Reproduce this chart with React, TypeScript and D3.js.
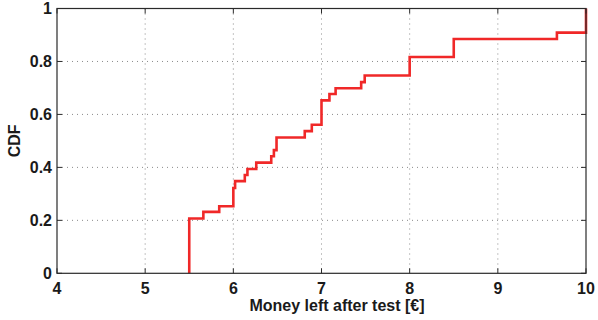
import React from "react";
import * as d3 from "d3";

// Empirical CDF: positions where the curve steps up, and the level reached there
const stepX = [5.5, 5.66, 5.84, 6.0, 6.02, 6.13, 6.16, 6.26, 6.43, 6.46, 6.49, 6.81, 6.89, 7.0, 7.09, 7.16, 7.45, 7.49, 8.0, 8.5, 9.67, 10];
const cdfLevel = [0.207, 0.232, 0.253, 0.322, 0.348, 0.371, 0.394, 0.418, 0.442, 0.465, 0.513, 0.537, 0.561, 0.653, 0.677, 0.699, 0.722, 0.747, 0.817, 0.885, 0.909, 1.0];

const xTicks = [4, 5, 6, 7, 8, 9, 10];
const yTicks = [0, 0.2, 0.4, 0.6, 0.8, 1];
const yTickLabels = ["0", "0.2", "0.4", "0.6", "0.8", "1"];

const W = 598;
const H = 320;
const left = 57;
const right = 586;
const top = 8.5;
const bottom = 273.3;

const FONT = "'Liberation Sans', Arial, Helvetica, sans-serif";

export default function App() {
  const x = d3.scaleLinear().domain([4, 10]).range([left, right]);
  const y = d3.scaleLinear().domain([0, 1]).range([bottom, top]);

  const pts: [number, number][] = [[stepX[0], 0], ...stepX.map((v, i) => [v, cdfLevel[i]] as [number, number])];
  const path = d3
    .line<[number, number]>()
    .x((d) => x(d[0]))
    .y((d) => y(d[1]))
    .curve(d3.curveStepAfter)(pts);

  const tickLen = 5;
  const axisColor = "#2a2a2a";

  return (
    <svg width={W} height={H} style={{ position: "absolute", left: 0, top: 0, background: "#fff" }}>
      {/* dotted grid */}
      <g stroke="#8a8a8a" strokeWidth={1} strokeDasharray="1,4">
        {xTicks.slice(1, -1).map((t) => (
          <line key={"gx" + t} x1={x(t)} x2={x(t)} y1={top} y2={bottom} />
        ))}
        {yTicks.slice(1, -1).map((t) => (
          <line key={"gy" + t} x1={left} x2={right} y1={y(t)} y2={y(t)} />
        ))}
      </g>

      {/* CDF curve */}
      <path d={path ?? ""} fill="none" stroke="#f02828" strokeWidth={2.6} strokeLinejoin="miter" />

      {/* box and inward ticks */}
      <rect x={left} y={top} width={right - left} height={bottom - top} fill="none" stroke={axisColor} strokeWidth={1.2} />
      <g stroke={axisColor} strokeWidth={1}>
        {xTicks.map((t) => (
          <g key={"tx" + t}>
            <line x1={x(t)} x2={x(t)} y1={bottom} y2={bottom - tickLen} />
            <line x1={x(t)} x2={x(t)} y1={top} y2={top + tickLen} />
          </g>
        ))}
        {yTicks.map((t) => (
          <g key={"ty" + t}>
            <line x1={left} x2={left + tickLen} y1={y(t)} y2={y(t)} />
            <line x1={right} x2={right - tickLen} y1={y(t)} y2={y(t)} />
          </g>
        ))}
      </g>

      {/* tick labels */}
      <g fontFamily={FONT} fontWeight="bold" fontSize={16} fill="#1a1a1a">
        {xTicks.map((t) => (
          <text key={"lx" + t} x={x(t)} y={293.5} textAnchor="middle">
            {t}
          </text>
        ))}
        {yTicks.map((t, i) => (
          <text key={"ly" + t} x={52} y={y(t) + 5.5} textAnchor="end">
            {yTickLabels[i]}
          </text>
        ))}
      </g>

      {/* axis titles */}
      <text
        x={337}
        y={311}
        textAnchor="middle"
        fontFamily={FONT}
        fontWeight="bold"
        fontSize={16}
        fill="#1a1a1a"
      >
        Money left after test [€]
      </text>
      <text
        transform={`translate(20,${(top + bottom) / 2}) rotate(-90)`}
        textAnchor="middle"
        fontFamily={FONT}
        fontWeight="bold"
        fontSize={16}
        fill="#1a1a1a"
      >
        CDF
      </text>
    </svg>
  );
}
